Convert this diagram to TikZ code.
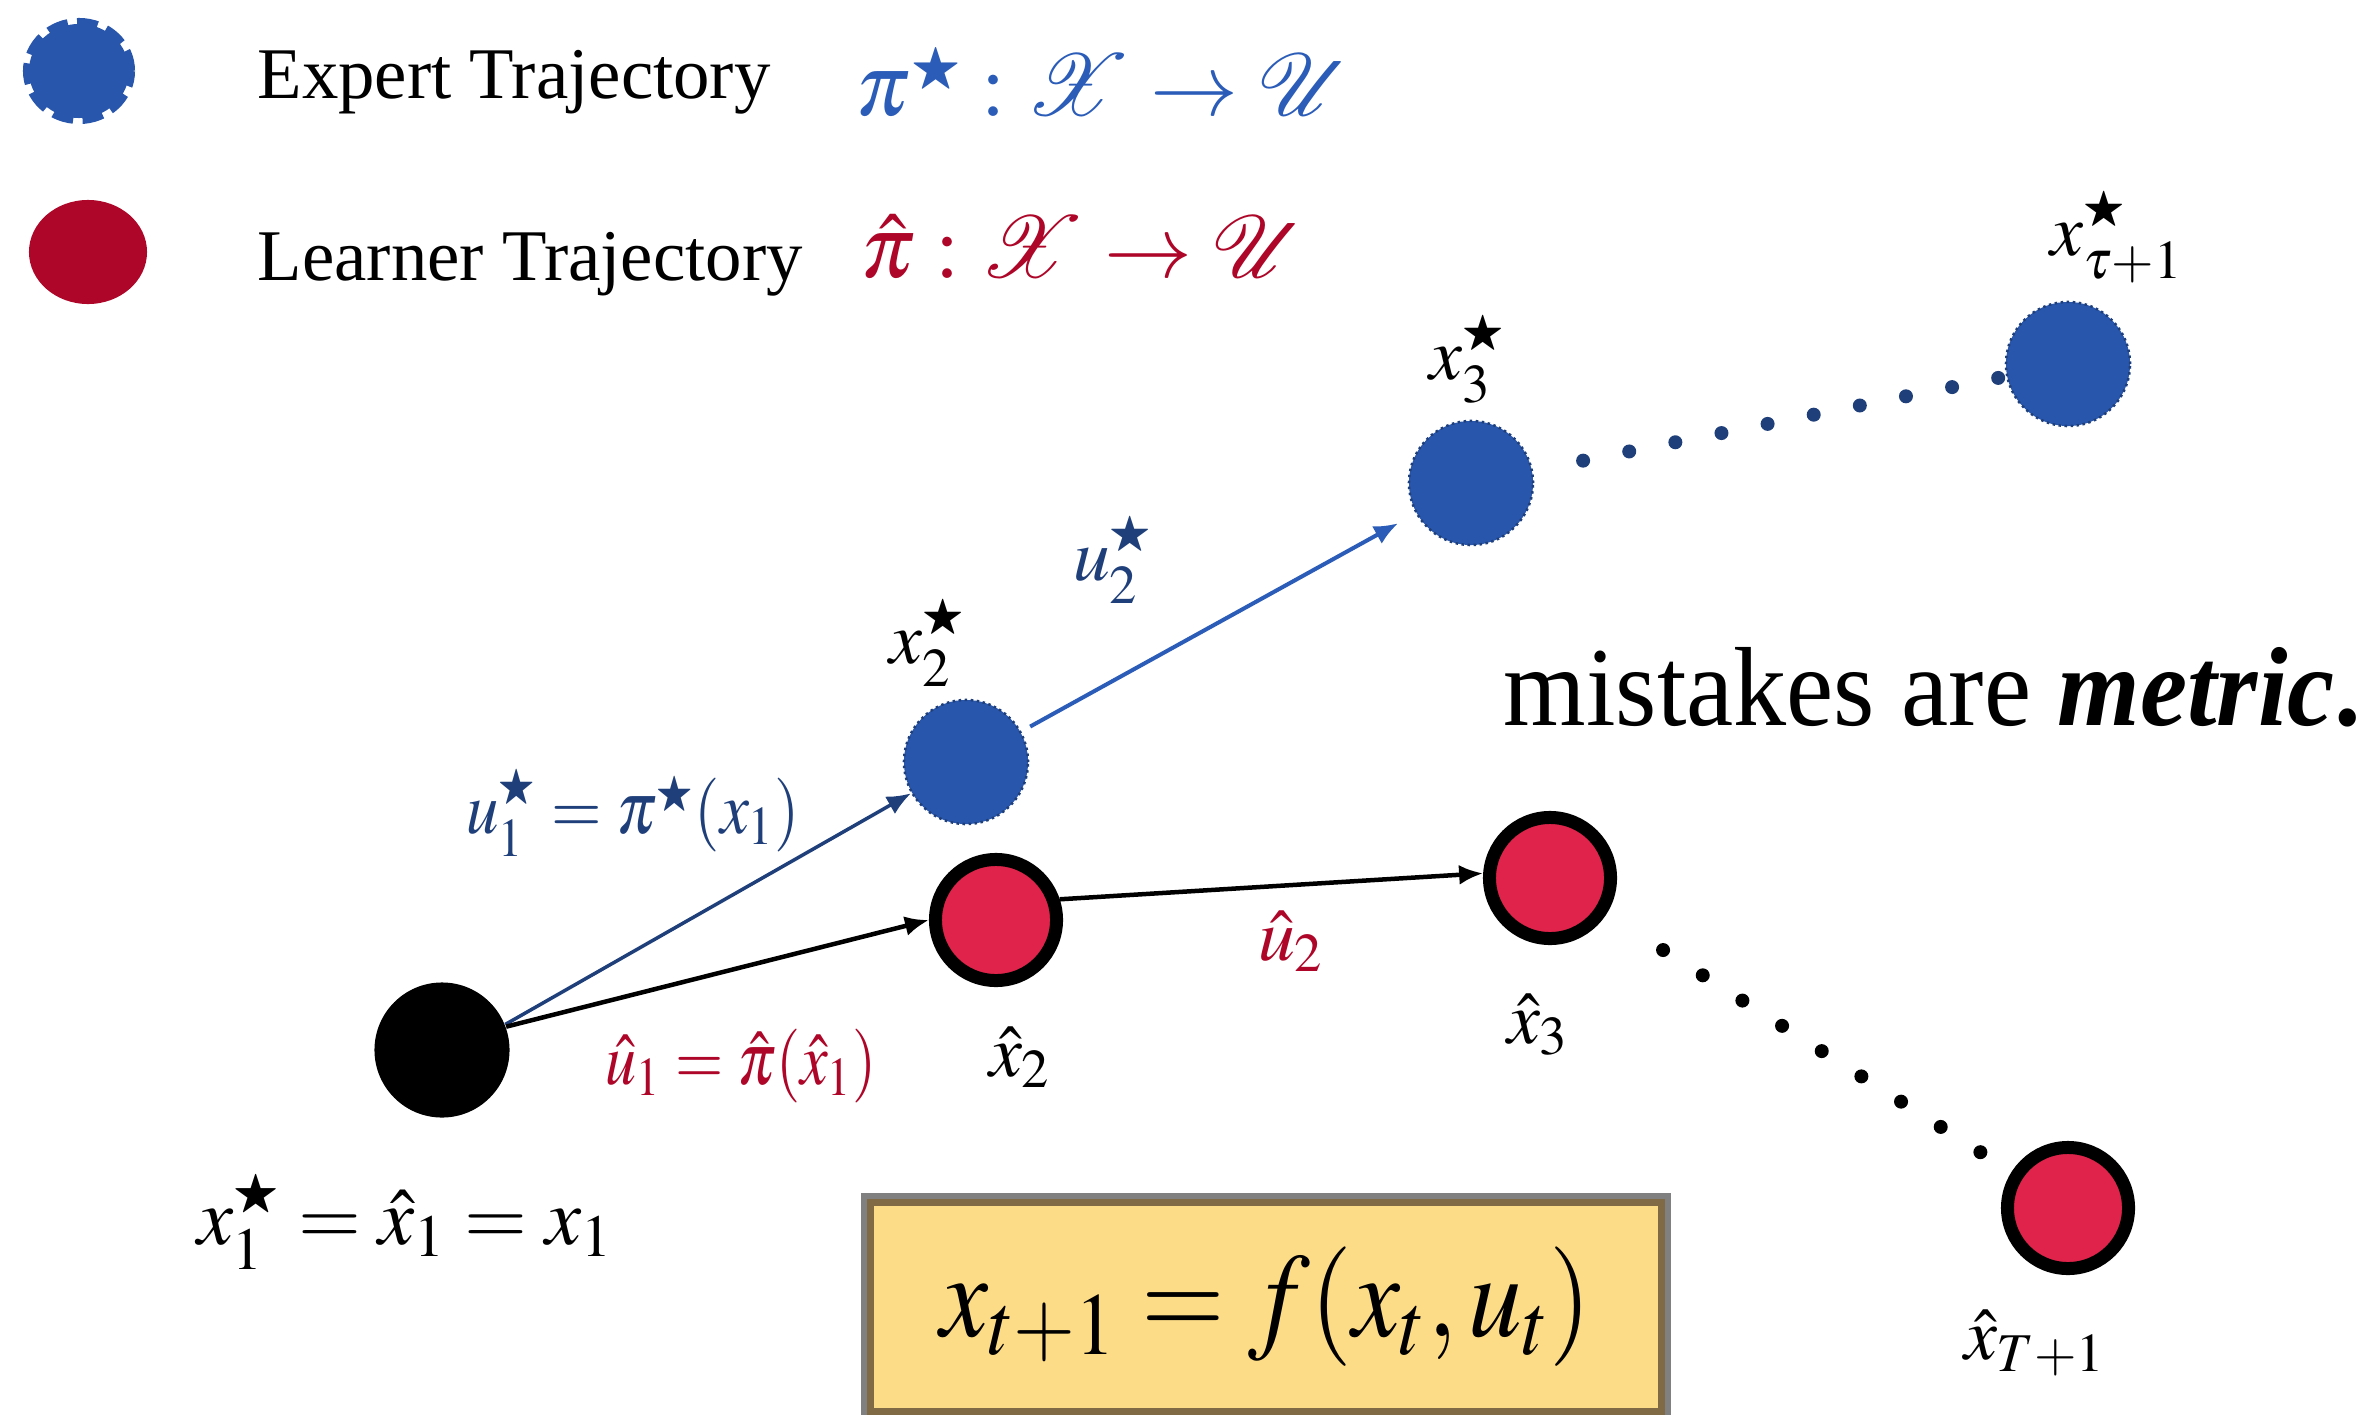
\documentclass[tikz,border=0pt]{standalone}
\usepackage{mathptmx}
\usepackage{amssymb}
\usepackage{mathrsfs}
\usepackage{fontspec}
\setmainfont{Liberation Serif}
\usetikzlibrary{arrows.meta,shapes.geometric,fit}
\definecolor{expblue}{HTML}{2856AC}
\definecolor{navy}{HTML}{1F3F7A}
\definecolor{midblue}{HTML}{2A5CB8}
\definecolor{lrnred}{HTML}{E0234A}
\definecolor{darkred}{HTML}{AD0628}
\definecolor{boxyellow}{HTML}{FDDC88}
\definecolor{boxbrown}{HTML}{7F6A45}
\definecolor{framegray}{HTML}{808080}
\newcommand{\ostar}{\mbox{\scalebox{0.8}{$\scriptstyle\bigstar$}}}
\begin{document}
\begin{tikzpicture}[x=0.01cm,y=-0.01cm,
  expnode/.style={circle,fill=expblue,draw=navy,densely dotted,line width=0.025cm,minimum size=1.24cm,inner sep=0},
  lrnnode/.style={circle,fill=lrnred,draw=black,line width=0.13cm,minimum size=1.21cm,inner sep=0},
  startnode/.style={circle,fill=black,minimum size=1.35cm,inner sep=0},
  lbl/.style={font=\fontsize{21}{25}\selectfont,inner sep=0},
  legtxt/.style={font=\fontsize{20.7}{24}\selectfont,inner sep=0,anchor=base west},
  legmath/.style={font=\fontsize{25}{30}\selectfont,inner sep=0,anchor=base west},
  tip/.style={-{Latex[length=0.24cm,width=0.2cm]}},
  dotline/.style={line width=0.14cm,line cap=round,dash pattern=on 0pt off 0.47cm}
]
\useasboundingbox (0,0) rectangle (2372,1415);
\clip (0,0) rectangle (2372,1415);

% legend
\node[ellipse,fill=expblue,draw=expblue,line width=0.12cm,dash pattern=on 0.2cm off 0.09cm,minimum width=1.0cm,minimum height=0.94cm,inner sep=0] (legE) at (79,71) {};
\node[ellipse,fill=darkred,minimum width=1.18cm,minimum height=1.04cm,inner sep=0] (legL) at (88,252) {};
\node[legtxt] (tE) at (257,98) {Expert Trajectory};
\node[legtxt] (tL) at (257,280) {Learner Trajectory};
\node[legmath,text=midblue] (mE) at (855,115) {$\pi^{\ostar} : \mathscr{X} \to \mathscr{U}$};
\node[legmath,text=darkred] (mL) at (860,277) {$\hat\pi : \mathscr{X} \to \mathscr{U}$};

% nodes
\node[startnode] (s) at (442,1050) {};
\node[expnode] (x2s) at (966,762) {};
\node[expnode] (x3s) at (1471,483) {};
\node[expnode] (xts) at (2068,364) {};
\node[lrnnode] (x2h) at (996,920) {};
\node[lrnnode] (x3h) at (1550,878) {};
\node[lrnnode] (xTh) at (2068,1208) {};

% connectors
\draw[tip,navy,line width=0.035cm] (s.22) -- (x2s);
\draw[tip,black,line width=0.045cm] (s.20) -- (x2h.west);
\draw[tip,midblue,line width=0.04cm,shorten <=0.1cm,shorten >=0.2cm] (x2s) -- (x3s);
\draw[tip,black,line width=0.045cm] (x2h.18) -- (x3h.176);
\draw[dotline,navy,shorten <=0.51cm,shorten >=0.02cm] (x3s) -- (xts);
\draw[dotline,black,shorten <=0.67cm,shorten >=0.30cm] (x3h) -- (xTh);

% labels
\node[lbl] (lx2s) at (928,643) {$x_2^{\ostar}$};
\node[lbl,text=navy] (lu2s) at (1113,560) {$u_2^{\ostar}$};
\node[lbl] (lx3s) at (1468,359) {$x_3^{\ostar}$};
\node[lbl] (lxts) at (2117,237) {$x_{\tau+1}^{\ostar}$};
\node[lbl,text=navy] (lu1s) at (633,813) {\scalebox{0.88}[1]{$u_1^{\ostar} = \pi^{\ostar}(x_1)$}};
\node[lbl,text=darkred] (lu1h) at (741,1066) {\scalebox{0.84}[1]{$\hat u_1 = \hat\pi(\hat x_1)$}};
\node[lbl] (lx2h) at (1020,1057) {$\hat x_2$};
\node[lbl,text=darkred] (lu2h) at (1291,941) {$\hat u_2$};
\node[lbl] (lx3h) at (1538,1025) {$\hat x_3$};
\node[lbl] (lxTh) at (2035,1343) {$\hat x_{T+1}$};
\node[lbl,font=\fontsize{23}{27}\selectfont] (lx1) at (405,1222) {$x_1^{\ostar} = \hat x_1 = x_1$};

% statement
\node[font=\fontsize{32}{38}\selectfont,anchor=base west,inner sep=0] (mk) at (1503,725) {\scalebox{0.943}[1]{mistakes are \textbf{\textit{metric}.}}};

% dynamics box
\node[fill=boxyellow,draw=boxbrown,line width=0.07cm,outer sep=0,inner sep=0,minimum width=7.9cm,minimum height=2.09cm,font=\fontsize{34}{40}\selectfont] (dyn) at (1266,1307) {\scalebox{0.9}[1]{$x_{t+1} = f(x_t, u_t)$}};
\node[draw=framegray,line width=0.06cm,fit=(dyn),inner sep=0.065cm,outer sep=0] (dynframe) {};
\end{tikzpicture}
\end{document}
